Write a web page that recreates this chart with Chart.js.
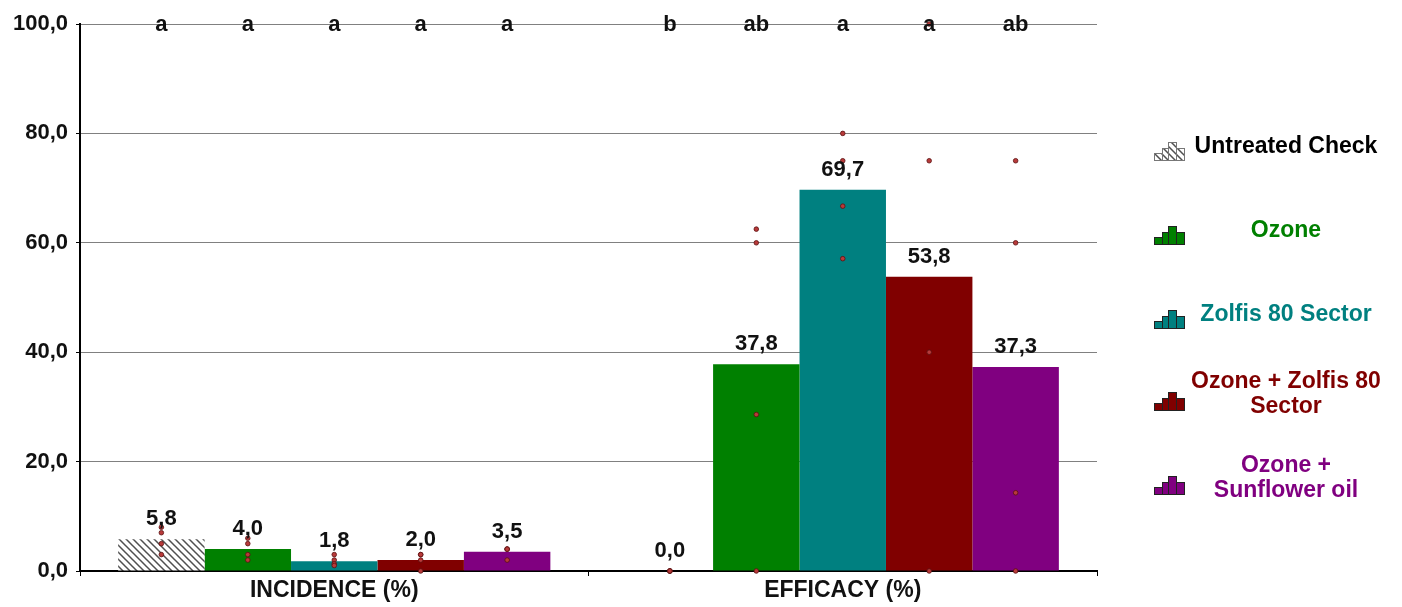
<!DOCTYPE html>
<html>
<head>
<meta charset="utf-8">
<script src="https://cdn.jsdelivr.net/npm/chart.js@4/dist/chart.umd.min.js"></script>
<style>
  html, body { margin: 0; padding: 0; background: #ffffff; }
  #wrap { width: 1402px; height: 607px; }
</style>
</head>
<body>
<div id="wrap"><canvas id="c" width="1402" height="607"></canvas></div>
<script>
// Categories and treatments
const categories = ['INCIDENCE (%)', 'EFFICACY (%)'];
const treatments = ['Untreated Check', 'Ozone', 'Zolfis 80 Sector', 'Ozone + Zolfis 80 Sector', 'Ozone + Sunflower oil'];
const legendLines = [['Untreated Check'], ['Ozone'], ['Zolfis 80 Sector'], ['Ozone + Zolfis 80', 'Sector'], ['Ozone +', 'Sunflower oil']];

// Treatment means (one value per treatment)
const incidence = [5.8, 4.0, 1.8, 2.0, 3.5];
const efficacy = [0.0, 37.8, 69.7, 53.8, 37.3];

// Significance letters
const incidenceLetters = ['a', 'a', 'a', 'a', 'a'];
const efficacyLetters = ['b', 'ab', 'a', 'a', 'ab'];

// Replicate values (four blocks per treatment)
const incidenceReps = [[8, 7, 5, 3], [6, 5, 3, 2], [3, 2, 1.3, 1], [3, 3, 2, 0], [4, 4, 4, 2]];
const efficacyReps = [[0, 0, 0, 0], [62.5, 60, 28.6, 0], [80, 75, 66.7, 57.1], [100, 75, 40, 0], [75, 60, 14.3, 0]];

// Value axis
const yMin = 0;
const yMax = 100;
const yStep = 20;

const barColors = ['#ffffff', '#008000', '#008080', '#800000', '#800080'];
const textColors = ['#000000', '#008000', '#008080', '#800000', '#800080'];
const FONT = "'Liberation Sans', Arial, sans-serif";

function fmt(v) { return v.toFixed(1).replace('.', ','); }

// Diagonal hatch for the untreated check
function makeHatch() {
  const s = 7;
  const cv = document.createElement('canvas');
  cv.width = s; cv.height = s;
  const g = cv.getContext('2d');
  g.fillStyle = '#ffffff';
  g.fillRect(0, 0, s, s);
  g.strokeStyle = '#505050';
  g.lineWidth = 1.5;
  g.beginPath();
  g.moveTo(-1, -1); g.lineTo(s + 1, s + 1);
  g.moveTo(-1, s - 1); g.lineTo(1, s + 1);
  g.moveTo(s - 1, -1); g.lineTo(s + 1, 1);
  g.stroke();
  return g.createPattern(cv, 'repeat');
}
const hatch = makeHatch();

const datasets = treatments.map((t, i) => ({
  label: t,
  data: [incidence[i], efficacy[i]],
  backgroundColor: i === 0 ? hatch : barColors[i],
  borderWidth: 0,
  categoryPercentage: 0.85,
  barPercentage: 1.0
}));

const letters = [incidenceLetters, efficacyLetters];
const reps = [incidenceReps, efficacyReps];

// Value labels, significance letters and replicate dots
const annotations = {
  id: 'annotations',
  afterDatasetsDraw(chart) {
    const ctx = chart.ctx;
    const y = chart.scales.y;
    ctx.save();
    chart.data.datasets.forEach((ds, i) => {
      const meta = chart.getDatasetMeta(i);
      meta.data.forEach((bar, c) => {
        const x = bar.x;
        // replicate dots
        reps[c][i].forEach(v => {
          ctx.beginPath();
          ctx.arc(x, y.getPixelForValue(v), 2.3, 0, Math.PI * 2);
          ctx.fillStyle = '#b83a3a';
          ctx.fill();
          ctx.lineWidth = 0.8;
          ctx.strokeStyle = '#5a1010';
          ctx.stroke();
        });
        // mean value
        ctx.fillStyle = '#111111';
        ctx.font = 'bold 22px ' + FONT;
        ctx.textAlign = 'center';
        ctx.textBaseline = 'middle';
        ctx.fillText(fmt(ds.data[c]), x, bar.y - 20);
        // letter
        ctx.textBaseline = 'alphabetic';
        ctx.fillText(letters[c][i], x, y.getPixelForValue(yMax) + 7);
      });
    });
    ctx.restore();
  }
};

// Legend with bar-chart icons and coloured, centred labels
const sideLegend = {
  id: 'sideLegend',
  afterDraw(chart) {
    const ctx = chart.ctx;
    const iconX = 1154;
    const textX = 1286;
    const rows = [150, 234, 318, 400, 484];
    ctx.save();
    chart.data.datasets.forEach((ds, i) => {
      const cy = rows[i];
      const bottom = cy + 10;
      const parts = [[0, 8, 7], [8, 6, 12], [14, 8, 18], [22, 8, 12]];
      parts.forEach(p => {
        ctx.fillStyle = ds.backgroundColor;
        ctx.fillRect(iconX + p[0], bottom - p[2], p[1], p[2]);
        ctx.lineWidth = 1;
        ctx.strokeStyle = i === 0 ? '#777777' : '#222222';
        ctx.strokeRect(iconX + p[0] + 0.5, bottom - p[2] + 0.5, p[1], p[2]);
      });
      const lines = legendLines[i];
      ctx.fillStyle = textColors[i];
      ctx.font = 'bold 23px ' + FONT;
      ctx.textAlign = 'center';
      ctx.textBaseline = 'middle';
      const lh = 25;
      const y0 = cy - 3 - (lines.length - 1) * lh / 2 - (lines.length > 1 ? 3 : 0);
      lines.forEach((ln, k) => ctx.fillText(ln, textX, y0 + k * lh));
    });
    ctx.restore();
  }
};

new Chart(document.getElementById('c'), {
  type: 'bar',
  data: { labels: categories, datasets },
  options: {
    responsive: false,
    animation: false,
    layout: { padding: { top: 24, right: 305, bottom: 0, left: 0 } },
    plugins: { legend: { display: false }, tooltip: { enabled: false } },
    scales: {
      x: {
        afterFit(s) { s.height = 36; },
        grid: { display: true, drawOnChartArea: false, drawTicks: true, tickLength: 5, tickColor: '#000000', offset: true },
        border: { display: true, color: '#000000', width: 2 },
        ticks: { color: '#111111', font: { family: FONT, size: 23, weight: 'bold' }, padding: 1 }
      },
      y: {
        min: yMin, max: yMax,
        afterFit(s) { s.width = 80; },
        ticks: { stepSize: yStep, callback: v => fmt(v), color: '#111111', font: { family: FONT, size: 22, weight: 'bold' }, padding: 8 },
        grid: { color: '#808080', lineWidth: 1, tickLength: 4, tickColor: '#000000' },
        border: { display: true, color: '#000000', width: 2 }
      }
    }
  },
  plugins: [annotations, sideLegend]
});
</script>
</body>
</html>
